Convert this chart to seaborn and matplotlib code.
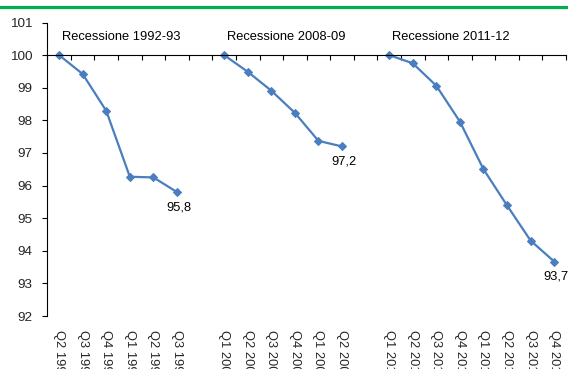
import matplotlib
matplotlib.use("Agg")
import matplotlib.pyplot as plt
from matplotlib.lines import Line2D
from matplotlib.ticker import FixedLocator, NullFormatter
import numpy as np
import pandas as pd
import seaborn as sns

# GDP index (start of recession = 100), quarterly
ep1_labels = ["Q2 1992", "Q3 1992", "Q4 1992", "Q1 1993", "Q2 1993", "Q3 1993"]
ep1_values = [100.0, 99.42, 98.29, 96.27, 96.25, 95.8]

ep2_labels = ["Q1 2008", "Q2 2008", "Q3 2008", "Q4 2008", "Q1 2009", "Q2 2009"]
ep2_values = [100.0, 99.49, 98.91, 98.23, 97.37, 97.2]

ep3_labels = ["Q1 2011", "Q2 2011", "Q3 2011", "Q4 2011",
              "Q1 2012", "Q2 2012", "Q3 2012", "Q4 2012"]
ep3_values = [100.0, 99.75, 99.06, 97.96, 96.5, 95.39, 94.31, 93.67]

episode_titles = ["Recessione 1992-93", "Recessione 2008-09", "Recessione 2011-12"]

y_ticks = [92, 93, 94, 95, 96, 97, 98, 99, 100, 101]

episodes = [(ep1_labels, ep1_values), (ep2_labels, ep2_values), (ep3_labels, ep3_values)]

# Build one table; a blank category separates consecutive episodes
rows = []
all_labels = []
pos = 0
for k, (labs, vals) in enumerate(episodes):
    if k > 0:
        all_labels.append("")
        pos += 1
    for lab, v in zip(labs, vals):
        rows.append({"pos": pos, "quarter": lab, "value": v, "episode": episode_titles[k]})
        all_labels.append(lab)
        pos += 1
df = pd.DataFrame(rows)
n_cat = len(all_labels)

sns.set_style("white")
plt.rcParams["font.family"] = ["Liberation Sans Narrow", "Liberation Sans", "DejaVu Sans"]
FS = 9.3
plt.rcParams["font.size"] = FS

fig = plt.figure(figsize=(5.68, 3.69), dpi=100)
ax = fig.add_axes([0.0833, 0.1436, 0.9132, 0.7954])

line_color = "#4A7EBF"
for title in episode_titles:
    sub = df[df["episode"] == title]
    sns.lineplot(data=sub, x="pos", y="value", ax=ax, color=line_color,
                 linewidth=1.6, marker="D", markersize=4.2,
                 markeredgecolor=line_color, markerfacecolor=line_color)

ax.set_xlim(-0.5, n_cat - 0.5)
ax.set_ylim(92, 101)
ax.set_yticks(y_ticks)
ax.set_yticklabels([str(t) for t in y_ticks])
ax.set_xlabel("")
ax.set_ylabel("")

# Spines: left axis plus a category axis crossing at 100
for side in ("top", "right"):
    ax.spines[side].set_visible(False)
for side in ("left", "bottom"):
    ax.spines[side].set_color("black")
    ax.spines[side].set_linewidth(0.8)
ax.spines["bottom"].set_position(("data", 100))

ax.tick_params(axis="y", direction="out", length=3.5, width=0.8, color="black",
               pad=7, labelsize=FS + 0.4, left=True)
ax.xaxis.set_major_locator(FixedLocator(np.arange(-0.5, n_cat, 1.0)))
ax.xaxis.set_major_formatter(NullFormatter())
ax.tick_params(axis="x", direction="out", length=3.5, width=0.8, color="black", bottom=True)

# Category labels placed below the plot area
sec = ax.secondary_xaxis("bottom")
sec.set_xticks(np.arange(n_cat))
sec.set_xticklabels(all_labels, rotation=270, fontsize=FS)
sec.tick_params(length=0, pad=10)
sec.spines["bottom"].set_visible(False)

# Episode titles and end-of-episode value labels
start = 0
for k, (labs, vals) in enumerate(episodes):
    ax.text(start + 0.12, 100.57, episode_titles[k], fontsize=FS,
            ha="left", va="center", color="black")
    last_pos = start + len(labs) - 1
    last_val = vals[-1]
    ax.annotate(f"{last_val:.1f}".replace(".", ","), xy=(last_pos, last_val),
                xytext=(1.5, -11), textcoords="offset points",
                ha="center", va="center", fontsize=FS, color="black")
    start += len(labs) + 1

# Green rule across the top
fig.add_artist(Line2D([0, 1], [0.9797, 0.9797], transform=fig.transFigure,
                      color="#00B050", linewidth=2.3))

fig.savefig("out.png", dpi=100)
